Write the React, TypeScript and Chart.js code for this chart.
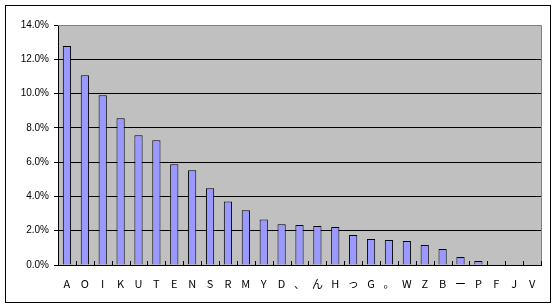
import React, { useEffect, useRef } from "react";
import { Chart, registerables } from "chart.js";

Chart.register(...registerables);

const categories = ["A", "O", "I", "K", "U", "T", "E", "N", "S", "R", "M", "Y", "D", "、", "ん", "H", "っ", "G", "。", "W", "Z", "B", "ー", "P", "F", "J", "V"];
const values = [12.78, 11.07, 9.9, 8.56, 7.57, 7.27, 5.87, 5.52, 4.47, 3.71, 3.19, 2.66, 2.37, 2.33, 2.28, 2.22, 1.75, 1.52, 1.46, 1.4, 1.17, 0.93, 0.47, 0.23, 0, 0, 0];
const yMin = 0;
const yMax = 14;
const yStep = 2;

const plotDecor = {
  id: "plotDecor",
  beforeDraw(chart: any) {
    const { ctx, chartArea } = chart;
    ctx.save();
    ctx.fillStyle = "#C0C0C0";
    ctx.fillRect(chartArea.left, chartArea.top, chartArea.right - chartArea.left, chartArea.bottom - chartArea.top);
    ctx.restore();
  },
  afterDraw(chart: any) {
    const { ctx, chartArea } = chart;
    const xs = chart.scales.x;
    ctx.save();
    ctx.strokeStyle = "#808080";
    ctx.lineWidth = 1;
    ctx.beginPath();
    const t = Math.round(chartArea.top) + 0.5;
    const r = Math.round(chartArea.right) + 0.5;
    ctx.moveTo(Math.round(chartArea.left), t);
    ctx.lineTo(r, t);
    ctx.lineTo(r, Math.round(chartArea.bottom));
    ctx.stroke();
    // inward category tick marks on the x axis
    ctx.strokeStyle = "#000";
    ctx.beginPath();
    const b = Math.round(chartArea.bottom);
    for (let i = 1; i <= categories.length; i++) {
      const x = i < categories.length
        ? (xs.getPixelForValue(i - 1) + xs.getPixelForValue(i)) / 2
        : xs.right;
      const px = Math.round(x) + 0.5;
      ctx.moveTo(px, b);
      ctx.lineTo(px, b - 4);
    }
    ctx.stroke();
    ctx.restore();
  },
};

export default function App() {
  const ref = useRef<HTMLCanvasElement | null>(null);
  useEffect(() => {
    if (!ref.current) return;
    const chart = new Chart(ref.current, {
      type: "bar",
      data: {
        labels: categories,
        datasets: [
          {
            data: values,
            backgroundColor: "#9999FF",
            borderColor: "#000000",
            borderWidth: 1,
            barPercentage: 0.46,
            categoryPercentage: 1,
          },
        ],
      },
      options: {
        animation: false,
        responsive: false,
        maintainAspectRatio: false,
        devicePixelRatio: 1,
        layout: { padding: { left: 0, top: 25, right: 15, bottom: 0 } },
        plugins: { legend: { display: false }, tooltip: { enabled: false } },
        scales: {
          x: {
            afterFit(scale: any) {
              scale.height = 43;
            },
            grid: { display: false, drawTicks: false },
            border: { display: true, color: "#000", width: 1 },
            ticks: {
              color: "#000",
              font: { family: "'Noto Sans CJK JP', 'Liberation Sans', sans-serif", size: 11 },
              padding: 12,
              maxRotation: 0,
              autoSkip: false,
            },
          },
          y: {
            min: yMin,
            max: yMax,
            afterFit(scale: any) {
              scale.width = 58;
            },
            grid: {
              color: "#000",
              tickColor: "#000",
              tickLength: 4,
              lineWidth: 1,
            },
            border: { display: true, color: "#000", width: 1 },
            ticks: {
              stepSize: yStep,
              color: "#000",
              font: { family: "'Liberation Sans', Arial, sans-serif", size: 10 },
              padding: 5,
              callback: (v: any) => Number(v).toFixed(1) + "%",
            },
          },
        },
      },
      plugins: [plotDecor],
    });
    return () => chart.destroy();
  }, []);
  return (
    <div style={{ position: "absolute", left: 0, top: 0, width: 556, height: 308, background: "#fff" }}>
      <canvas ref={ref} width={556} height={308} style={{ position: "absolute", left: 0, top: 0, width: 556, height: 308 }} />
      <div
        style={{
          position: "absolute",
          left: 5,
          top: 5,
          width: 546,
          height: 298,
          boxSizing: "border-box",
          border: "1px solid #000",
          pointerEvents: "none",
        }}
      />
    </div>
  );
}
